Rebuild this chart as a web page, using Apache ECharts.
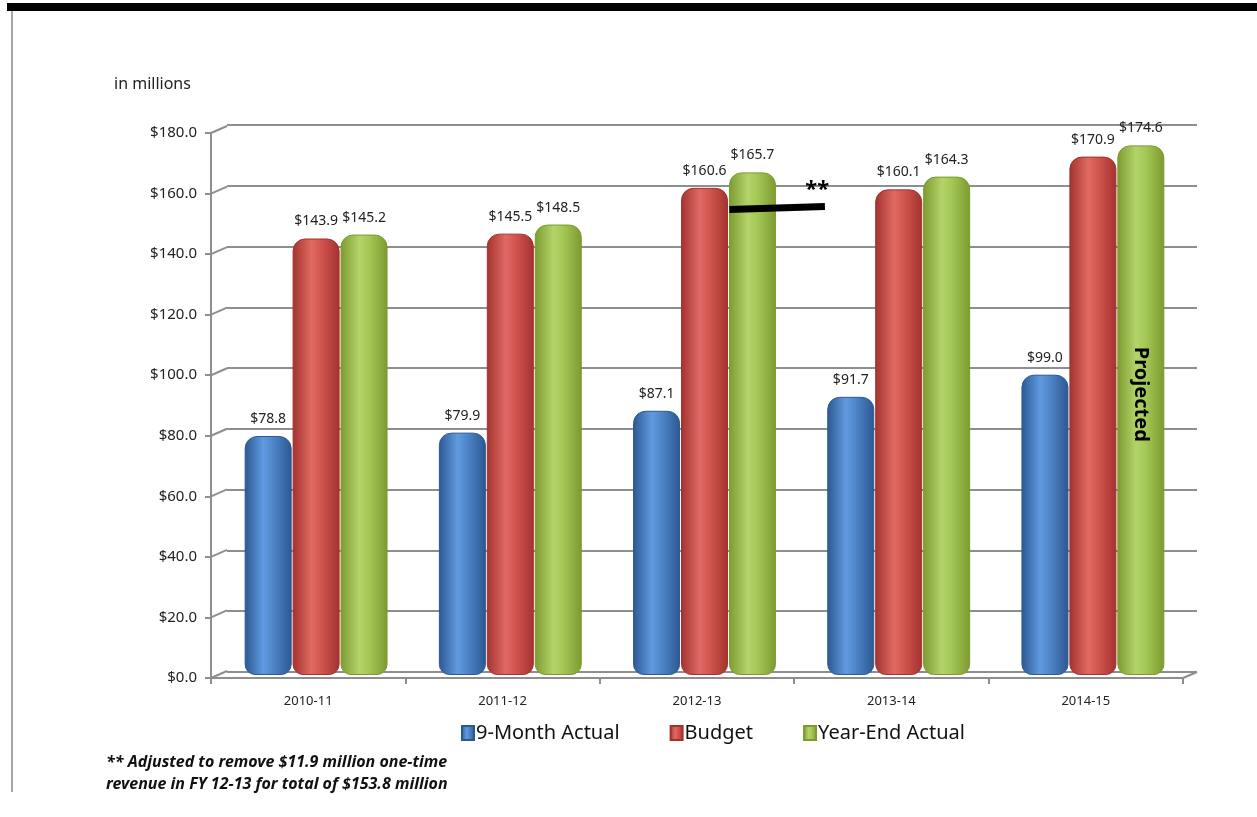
<!DOCTYPE html>
<html>
<head>
<meta charset="utf-8">
<script src="https://cdn.jsdelivr.net/npm/echarts@6/dist/echarts.min.js"></script>
<style>
  html, body { margin: 0; padding: 0; background: #fff; }
  #chart { width: 1257px; height: 817px; }
</style>
</head>
<body>
<div id="chart"></div>
<script>
// data (in millions)
const categories = ['2010-11', '2011-12', '2012-13', '2013-14', '2014-15'];
const nineMonth = [78.8, 79.9, 87.1, 91.7, 99.0];
const budget = [143.9, 145.5, 160.6, 160.1, 170.9];
const yearEnd = [145.2, 148.5, 165.7, 164.3, 174.6];
const yTicks = [0, 20, 40, 60, 80, 100, 120, 140, 160, 180];
const adjusted1213 = 153.8; // FY 12-13 without the one-time revenue
const font = 'Noto Sans';
const gridGray = '#8e8e8e';

// horizontal gradient, dark edges and a lighter middle, like a cylinder
function tube(edge, mid, light) {
  return new echarts.graphic.LinearGradient(0, 0, 1, 0, [
    { offset: 0, color: edge },
    { offset: 0.4, color: light },
    { offset: 0.6, color: mid },
    { offset: 1, color: edge }
  ]);
}

function money(v) {
  return '$' + Number(v).toFixed(1);
}

function barSeries(name, data, edge, mid, light) {
  return {
    name: name,
    type: 'bar',
    xAxisIndex: 2,
    yAxisIndex: 2,
    data: data,
    barWidth: 47,
    barGap: '2%',
    z: 3,
    itemStyle: {
      color: tube(edge, mid, light),
      borderColor: edge,
      borderWidth: 1,
      borderRadius: [12, 12, 10, 10]
    },
    label: {
      show: true,
      position: 'top',
      distance: 10,
      formatter: p => money(p.value),
      fontFamily: font,
      fontSize: 14,
      color: '#222'
    }
  };
}

const chart = echarts.init(document.getElementById('chart'));

const yearEndSeries = barSeries('Year-End Actual', yearEnd, '#7c9a30', '#a4c855', '#b3d46a');
yearEndSeries.markPoint = {
  symbol: 'rect',
  symbolSize: 1,
  itemStyle: { color: 'transparent' },
  label: {
    show: true,
    position: 'inside',
    formatter: 'Projected',
    rotate: -90,
    fontFamily: font,
    fontSize: 20,
    fontWeight: 'bold',
    color: '#000'
  },
  data: [{ coord: [categories[4], yearEnd[4] * 0.53] }]
};

const option = {
  animation: false,
  backgroundColor: '#fff',
  title: [
    {
      text: 'in millions',
      left: 109,
      top: 71,
      textStyle: { fontFamily: font, fontSize: 16, fontWeight: 'normal', color: '#222' }
    },
    {
      text: '** Adjusted to remove $11.9 million one-time\nrevenue in FY 12-13 for total of $153.8 million',
      left: 101,
      top: 746,
      textStyle: {
        fontFamily: font, fontSize: 16, fontWeight: 'bold', fontStyle: 'italic',
        color: '#111', lineHeight: 22
      }
    }
  ],
  legend: {
    top: 718,
    left: 456,
    icon: 'rect',
    itemWidth: 12,
    itemHeight: 14,
    itemGap: 50,
    textStyle: { fontFamily: font, fontSize: 20, color: '#111', padding: [0, 0, 0, -3] },
    data: ['9-Month Actual', 'Budget', 'Year-End Actual']
  },
  graphic: [
    { type: 'rect', shape: { x: 7, y: 3, width: 1250, height: 8 }, style: { fill: '#000' } },
    { type: 'line', shape: { x1: 12, y1: 11, x2: 12, y2: 792 }, style: { stroke: '#a6a6a6', lineWidth: 2 } }
  ],
  grid: [
    { left: 227, right: 60, top: 125, bottom: 145 },   // back wall
    { left: 211, right: 74, top: 133, bottom: 139 },   // front axes
    { left: 219, right: 67, top: 129, bottom: 142 }    // bars in the middle
  ],
  xAxis: [
    { gridIndex: 0, type: 'category', data: categories, show: false },
    {
      gridIndex: 1, type: 'category', data: categories,
      axisLine: { lineStyle: { color: gridGray, width: 2 } },
      axisTick: { show: true, length: 6, lineStyle: { color: gridGray, width: 2 } },
      axisLabel: { fontFamily: font, fontSize: 13, color: '#222', margin: 17 }
    },
    { gridIndex: 2, type: 'category', data: categories, show: false }
  ],
  yAxis: [
    {
      gridIndex: 0, type: 'value', min: 0, max: 180, interval: 20,
      axisLine: { show: false }, axisTick: { show: false }, axisLabel: { show: false },
      splitLine: { lineStyle: { color: gridGray, width: 2 } }
    },
    {
      gridIndex: 1, type: 'value', min: 0, max: 180, interval: 20,
      axisLine: { show: true, lineStyle: { color: gridGray, width: 2 } },
      axisTick: { show: true, length: 6, lineStyle: { color: gridGray, width: 2 } },
      axisLabel: { fontFamily: font, fontSize: 15, color: '#222', margin: 14, formatter: money },
      splitLine: { show: false }
    },
    { gridIndex: 2, type: 'value', min: 0, max: 180, show: false, splitLine: { show: false } }
  ],
  series: [
    // diagonal links from the front axis to the back wall
    {
      type: 'custom',
      xAxisIndex: 1,
      yAxisIndex: 1,
      silent: true,
      z: 1,
      data: yTicks.map(v => [0, v]),
      renderItem: function (params, api) {
        const p = api.coord([0, api.value(1)]);
        const band = api.size([1, 0])[0];
        const x = p[0] - band / 2;
        const style = { stroke: gridGray, lineWidth: 2 };
        const kids = [{ type: 'line', shape: { x1: x, y1: p[1], x2: x + 16, y2: p[1] - 7 }, style: style }];
        if (api.value(1) === 0) {
          const xr = x + band * categories.length;
          kids.push({ type: 'line', shape: { x1: xr, y1: p[1], x2: xr + 14, y2: p[1] - 6 }, style: style });
        }
        return { type: 'group', children: kids };
      }
    },
    barSeries('9-Month Actual', nineMonth, '#2c5891', '#4f86c9', '#619ae0'),
    barSeries('Budget', budget, '#a3322f', '#d35650', '#e06a63'),
    yearEndSeries,
    // the ** adjustment marker on FY 12-13
    {
      type: 'custom',
      xAxisIndex: 2,
      yAxisIndex: 2,
      silent: true,
      z: 10,
      data: [[2, adjusted1213]],
      renderItem: function (params, api) {
        const p = api.coord([api.value(0), api.value(1)]);
        const band = api.size([1, 0])[0];
        return {
          type: 'group',
          children: [
            {
              type: 'line',
              shape: { x1: p[0] + band * 0.128, y1: p[1] + 1, x2: p[0] + band * 0.62, y2: p[1] - 2 },
              style: { stroke: '#000', lineWidth: 7 }
            },
            {
              type: 'text',
              style: {
                text: '**', x: p[0] + band * 0.58, y: p[1] - 8,
                align: 'center', verticalAlign: 'bottom',
                fontFamily: font, fontSize: 22, fontWeight: 'bold', fill: '#000'
              }
            }
          ]
        };
      }
    }
  ]
};

chart.setOption(option);
window.onresize = function () {
  chart.resize();
};
</script>
</body>
</html>
